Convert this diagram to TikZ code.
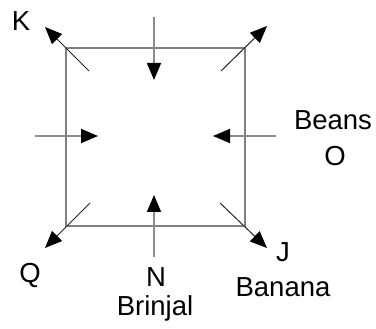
\documentclass[tikz,border=0pt]{standalone}
\usepackage{fontspec}
\setmainfont{Liberation Sans}
\usetikzlibrary{arrows.meta}

\tikzset{
  lbl/.style={inner sep=0pt, font=\fontsize{27.5}{30}\selectfont},
  side/.style={draw=black!50, line width=1.8pt},
  push/.style={draw=black!45, line width=1.6pt, -{Triangle[length=17pt, width=14pt, color=black]}},
  pull/.style={draw=black!85, line width=1pt, -{Triangle[length=17pt, width=14pt, color=black]}}
}

\begin{document}
\begin{tikzpicture}[x=1pt, y=-1pt]
    \useasboundingbox (0, 0) rectangle (376, 329);

    % corners of the square
    \coordinate (tl) at (66, 48);
    \coordinate (tr) at (245, 48);
    \coordinate (br) at (245, 226);
    \coordinate (bl) at (66, 226);

    % arrow ends
    \coordinate (ts) at (154, 17);
    \coordinate (te) at (154, 80);
    \coordinate (ls) at (35, 136);
    \coordinate (le) at (98, 136);
    \coordinate (rs) at (276, 136);
    \coordinate (re) at (213, 136);
    \coordinate (bs) at (154, 257);
    \coordinate (be) at (154, 195);

    \coordinate (ktl) at (89, 71);
    \coordinate (k) at (45, 27);
    \coordinate (ktr) at (221, 71);
    \coordinate (ur) at (267, 26);
    \coordinate (kbl) at (90, 203);
    \coordinate (q) at (45, 248);
    \coordinate (kbr) at (220, 203);
    \coordinate (j) at (267, 248);

    \node[lbl] (K) at (21, 21) {K};
    \node[lbl] (beans) at (333, 120) {Beans};
    \node[lbl] (O) at (335, 156) {O};
    \node[lbl] (Q) at (30, 275) {Q};
    \node[lbl] (N) at (156, 277) {N};
    \node[lbl, anchor=base] (brinjal) at (155, 316) {Brinjal};
    \node[lbl] (J) at (283, 252) {J};
    \node[lbl] (banana) at (283, 287) {Banana};

    \draw [side] (tl) -- (tr) -- (br) -- (bl) -- cycle;

    \draw [push] (ts) -- (te);
    \draw [push] (ls) -- (le);
    \draw [push] (rs) -- (re);
    \draw [push] (bs) -- (be);

    \draw [pull] (ktl) -- (k);
    \draw [pull] (ktr) -- (ur);
    \draw [pull] (kbl) -- (q);
    \draw [pull] (kbr) -- (j);

\end{tikzpicture}
\end{document}
